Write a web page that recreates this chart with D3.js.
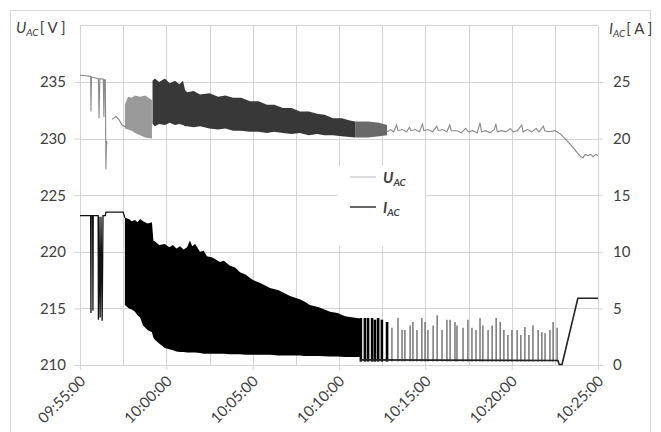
<!DOCTYPE html>
<html>
<head>
<meta charset="utf-8">
<script src="https://cdn.jsdelivr.net/npm/d3@7"></script>
<style>
  body { margin: 0; background: #fff; }
  svg text { font-family: Lato, "Open Sans", sans-serif; fill: #404040; }
</style>
</head>
<body>
<svg id="chart" width="661" height="432"></svg>
<script>

// ---- data ----
var U_TICKS = [210, 215, 220, 225, 230, 235];
var I_TICKS = [0, 5, 10, 15, 20, 25];
var TIME_TICKS = ["09:55:00", "10:00:00", "10:05:00", "10:10:00", "10:15:00", "10:20:00", "10:25:00"];

// U_AC, thin line pieces [time, V]
var uStart = [["09:55:00",235.6],["09:55:20",235.55],["09:55:37",235.5],["09:55:38",232.4],["09:55:40",235.45],
              ["09:56:04",235.3],["09:56:06",231.8],["09:56:09",235.3],["09:56:21",235.25],["09:56:23",231.9],
              ["09:56:25",235.2],["09:56:28",235.2],["09:56:30",227.3],["09:56:32",229.8],["09:56:34",229.5]];
var uWave = [["09:56:51",231.7],["09:57:05",231.95],["09:57:16",231.65],["09:57:26",231.2],["09:57:40",231.0]];
var uEnd = [["10:12:47",230.6],["10:13:00",230.8],["10:13:10",230.6],["10:13:20",231.2],["10:13:25",230.7],["10:13:40",230.8],
            ["10:13:55",230.6],["10:14:05",231.0],["10:14:10",230.7],["10:14:25",230.8],["10:14:40",230.6],["10:14:50",231.3],
            ["10:14:55",230.7],["10:15:10",230.8],["10:15:25",230.6],["10:15:40",231.1],["10:15:45",230.7],["10:16:00",230.8],
            ["10:16:15",230.6],["10:16:25",231.2],["10:16:30",230.7],["10:16:50",230.7],["10:17:05",230.5],["10:17:20",230.9],
            ["10:17:30",230.6],["10:17:45",230.7],["10:18:00",230.5],["10:18:10",231.4],["10:18:15",230.6],["10:18:30",230.7],
            ["10:18:45",230.5],["10:19:00",230.8],["10:19:05",231.3],["10:19:10",230.6],["10:19:25",230.7],["10:19:40",230.6],
            ["10:19:55",230.9],["10:20:05",230.6],["10:20:20",230.7],["10:20:35",231.2],["10:20:40",230.6],["10:20:55",230.8],
            ["10:21:10",230.6],["10:21:25",230.9],["10:21:35",230.6],["10:21:50",231.1],["10:21:55",230.7],["10:22:10",230.6],
            ["10:22:31",230.7],["10:22:50",230.4],["10:23:05",230.0],["10:23:20",229.6],["10:23:30",229.3],["10:23:40",229.0],
            ["10:23:50",228.7],["10:24:00",228.4],["10:24:08",228.3],["10:24:15",228.6],["10:24:25",228.5],["10:24:35",228.6],
            ["10:24:43",228.4],["10:24:52",228.6],["10:25:00",228.5]];

// U_AC, dense oscillation envelopes [time, low, high]
var uBandLight = [["09:57:36",230.9,233.0],["09:57:47",230.8,233.7],["09:58:00",230.7,233.6],["09:58:11",230.5,233.8],
                  ["09:58:29",230.3,233.7],["09:58:46",230.1,233.8],["09:59:10",230.0,233.4]];
var uBandDark = [["09:59:12",231.3,235.1],["09:59:20",231.1,235.3],["09:59:35",231.3,235.0],["09:59:55",231.2,235.3],
                 ["10:00:12",231.4,234.9],["10:00:30",231.2,235.1],["10:00:45",231.3,234.8],["10:00:58",231.2,235.1],
                 ["10:01:05",231.1,234.3],["10:01:12",231.1,234.1],["10:01:35",231.0,234.2],["10:01:57",231.1,233.9],
                 ["10:02:30",230.9,234.0],["10:03:00",230.8,233.7],["10:03:25",230.9,233.8],["10:03:52",230.7,233.6],
                 ["10:04:20",230.7,233.6],["10:04:51",230.6,233.3],["10:05:20",230.6,233.3],["10:05:50",230.5,233.0],
                 ["10:06:15",230.6,233.0],["10:06:45",230.5,232.7],["10:07:15",230.4,232.7],["10:07:44",230.5,232.4],
                 ["10:08:15",230.3,232.4],["10:08:44",230.4,232.2],["10:09:10",230.3,232.1],["10:09:39",230.3,231.8],
                 ["10:10:10",230.2,231.8],["10:10:38",230.15,231.6],["10:10:56",230.1,231.5]];
var uBandMid = [["10:10:56",230.1,231.5],["10:11:40",230.1,231.5],["10:12:20",230.2,231.4],["10:12:47",230.3,231.2]];

// I_AC, start line [time, A]
var iStart = [["09:55:00",13.2],["09:55:37",13.2],["09:55:38",4.6],["09:55:39",13.2],["09:55:44",13.2],["09:55:45",4.8],
              ["09:55:46",13.2],["09:56:03",13.2],["09:56:04",4.0],["09:56:06",13.1],["09:56:10",4.2],["09:56:13",13.1],
              ["09:56:17",3.9],["09:56:20",13.2],["09:56:28",13.2],["09:56:30",13.5],["09:57:30",13.5],["09:57:36",13.0]];
// I_AC, dense oscillation envelope [time, low, high]
var iBand = [["09:57:36",5.3,13.0],["09:57:50",5.0,12.9],["09:58:00",4.9,12.7],["09:58:11",4.7,12.8],["09:58:20",4.4,12.6],
             ["09:58:29",4.2,12.9],["09:58:39",3.5,12.7],["09:58:55",3.1,12.5],["09:59:10",2.9,12.6],["09:59:15",2.4,11.0],
             ["09:59:21",2.2,10.9],["09:59:35",1.9,10.6],["09:59:55",1.5,10.7],["10:00:10",1.4,10.4],["10:00:23",1.3,10.6],
             ["10:00:35",1.2,10.3],["10:00:48",1.15,10.5],["10:01:00",1.15,10.2],["10:01:12",1.1,10.4],["10:01:22",1.1,11.0],
             ["10:01:30",1.1,10.5],["10:01:40",1.1,10.7],["10:01:57",1.05,10.0],["10:02:10",1.0,10.1],["10:02:21",1.0,9.6],
             ["10:02:40",1.0,9.5],["10:03:06",1.0,9.1],["10:03:20",1.0,9.2],["10:03:40",0.95,8.8],["10:04:00",0.95,8.6],
             ["10:04:16",0.95,8.2],["10:04:35",0.9,8.0],["10:05:01",0.9,7.5],["10:05:30",0.9,7.2],["10:06:00",0.9,6.8],
             ["10:06:30",0.85,6.6],["10:07:10",0.85,6.1],["10:07:44",0.85,5.8],["10:08:00",0.8,5.6],["10:08:19",0.8,5.3],
             ["10:08:50",0.8,5.1],["10:09:29",0.75,4.7],["10:09:55",0.75,4.6],["10:10:21",0.7,4.3],["10:11:13",0.7,4.1]];
// I_AC, separate switching spikes [time, peak A]
var iSpikes = [["10:11:16",4.15],["10:11:30",4.15],["10:11:41",4.15],["10:11:55",4.15],["10:12:05",4.0],["10:12:16",4.15],
               ["10:12:29",4.0],["10:12:47",3.8],["10:13:04",3.3],["10:13:25",4.15],["10:13:39",3.1],["10:13:49",3.1],
               ["10:14:07",3.5],["10:14:17",3.8],["10:14:31",3.1],["10:14:48",4.15],["10:14:59",3.8],["10:15:09",3.1],
               ["10:15:27",3.5],["10:15:41",4.4],["10:15:58",3.1],["10:16:15",4.0],["10:16:26",4.0],["10:16:43",3.8],
               ["10:16:50",3.5],["10:17:11",3.3],["10:17:28",4.0],["10:17:42",3.3],["10:17:56",3.1],["10:18:10",4.15],
               ["10:18:20",3.5],["10:18:38",3.1],["10:18:52",3.5],["10:19:06",4.15],["10:19:20",3.8],["10:19:33",3.1],
               ["10:19:47",2.65],["10:20:01",3.1],["10:20:19",3.1],["10:20:32",2.65],["10:20:46",3.35],["10:21:00",2.65],
               ["10:21:14",3.5],["10:21:32",3.1],["10:21:45",2.9],["10:21:56",2.8],["10:22:13",3.1],["10:22:24",3.8],
               ["10:22:38",3.3]];
var iEnd = [["10:11:13",0.45],["10:22:41",0.4],["10:22:45",0.05],["10:22:55",0.05],["10:23:50",5.9],["10:25:00",5.9]];

// ---- drawing ----
var svg = d3.select("#chart");
var parse = d3.timeParse("%H:%M:%S");
var X0 = 80, X1 = 598, Y0 = 365, Y1 = 25.4;
var T0 = parse("09:55:00");

var x = d3.scaleTime().domain([T0, parse("10:25:00")]).range([X0, X1]);
var yU = d3.scaleLinear().domain([210, 240]).range([Y0, Y1]);
var yI = d3.scaleLinear().domain([0, 30]).range([Y0, Y1]);

// outer frame
svg.append("rect").attr("x", 10.5).attr("y", 10.5).attr("width", 640).attr("height", 440)
   .attr("fill", "none").attr("stroke", "#d9d9d9");

// gridlines, every 2.5 minutes and every 5 V
var grid = svg.append("g").attr("stroke", "#d4d4d4").attr("stroke-width", 1);
var halfTicks = d3.range(0, 13).map(function(k) { return new Date(T0.getTime() + k * 150000); });
grid.selectAll(".vg").data(halfTicks).enter().append("line")
    .attr("x1", function(d) { return Math.round(x(d)) + 0.5; })
    .attr("x2", function(d) { return Math.round(x(d)) + 0.5; })
    .attr("y1", Y1).attr("y2", Y0);
grid.selectAll(".hg").data(d3.range(210, 241, 5)).enter().append("line")
    .attr("x1", X0).attr("x2", X1)
    .attr("y1", function(d) { return Math.round(yU(d)) + 0.5; })
    .attr("y2", function(d) { return Math.round(yU(d)) + 0.5; });

// axes
function styleAxis(g) {
  g.select(".domain").remove();
  g.selectAll(".tick line").attr("stroke", "#d4d4d4");
  g.selectAll(".tick text").attr("fill", "#404040").style("font-size", "15px");
}
svg.append("g").attr("transform", "translate(" + X0 + ",0)")
   .call(d3.axisLeft(yU).tickValues(U_TICKS).tickSize(6).tickPadding(8))
   .call(styleAxis);
svg.append("g").attr("transform", "translate(" + X1 + ",0)")
   .call(d3.axisRight(yI).tickValues(I_TICKS).tickSize(5).tickPadding(10))
   .call(styleAxis);
var xAxis = svg.append("g").attr("transform", "translate(0," + Y0 + ")")
   .call(d3.axisBottom(x).tickValues(TIME_TICKS.map(parse)).tickSize(5).tickFormat(d3.timeFormat("%H:%M:%S")))
   .call(styleAxis);
xAxis.selectAll(".tick text")
   .attr("text-anchor", "end")
   .attr("y", 0).attr("dy", 0)
   .attr("transform", "translate(6,17) rotate(-45)");

// legend background
svg.append("rect").attr("x", 337).attr("y", 166).attr("width", 88).attr("height", 80).attr("fill", "#fff");

// U_AC
var line = function(y) {
  return d3.line().x(function(d) { return x(parse(d[0])); }).y(function(d) { return y(d[1]); });
};
var band = function(y) {
  return d3.area().x(function(d) { return x(parse(d[0])); })
           .y0(function(d) { return y(d[1]); }).y1(function(d) { return y(d[2]); });
};

svg.append("path").datum(uBandLight).attr("d", band(yU)).attr("fill", "#9a9a9a");
svg.append("path").datum(uBandDark).attr("d", band(yU)).attr("fill", "#383838");
svg.append("path").datum(uBandMid).attr("d", band(yU)).attr("fill", "#6a6a6a");
[uStart, uWave, uEnd].forEach(function(s) {
  svg.append("path").datum(s).attr("d", line(yU)).attr("fill", "none")
     .attr("stroke", "#8a8a8a").attr("stroke-width", 1.1);
});

// I_AC
svg.append("path").datum(iStart).attr("d", line(yI)).attr("fill", "none")
   .attr("stroke", "#111").attr("stroke-width", 1.3);
svg.append("path").datum(iBand).attr("d", band(yI)).attr("fill", "#000");
svg.selectAll(".spike").data(iSpikes).enter().append("line")
   .attr("x1", function(d) { return x(parse(d[0])); })
   .attr("x2", function(d) { return x(parse(d[0])); })
   .attr("y1", yI(0.3))
   .attr("y2", function(d) { return yI(d[1]); })
   .attr("stroke", function(d) { return parse(d[0]) < parse("10:12:50") ? "#000" : "#555"; })
   .attr("stroke-width", function(d) { return parse(d[0]) < parse("10:12:50") ? 2.6 : 1.2; });
svg.append("path").datum(iEnd).attr("d", line(yI)).attr("fill", "none")
   .attr("stroke", "#222").attr("stroke-width", 1.6);

// axis titles
var lt = svg.append("text").attr("x", 16).attr("y", 33).style("font-size", "15px");
lt.append("tspan").text("U").style("font-style", "italic");
lt.append("tspan").text("AC").style("font-style", "italic").style("font-size", "10px").attr("dy", 3);
lt.append("tspan").text("[ V ]").attr("dy", -3).attr("dx", 1);
var rt = svg.append("text").attr("x", 609).attr("y", 34).style("font-size", "15px");
rt.append("tspan").text("I").style("font-style", "italic");
rt.append("tspan").text("AC").style("font-style", "italic").style("font-size", "10px").attr("dy", 3);
rt.append("tspan").text("[ A ]").attr("dy", -3).attr("dx", 1);

// legend
var legend = [["U", "#c8c8c8", 177], ["I", "#111", 207]];
legend.forEach(function(l) {
  svg.append("line").attr("x1", 350).attr("x2", 376).attr("y1", l[2]).attr("y2", l[2])
     .attr("stroke", l[1]).attr("stroke-width", 1.3);
  var t = svg.append("text").attr("x", 383).attr("y", l[2] + 6)
     .style("font-size", "15px").style("font-weight", "bold").style("font-style", "italic");
  t.append("tspan").text(l[0]);
  t.append("tspan").text("AC").style("font-size", "10px").attr("dy", 3);
});
</script>
</body>
</html>
